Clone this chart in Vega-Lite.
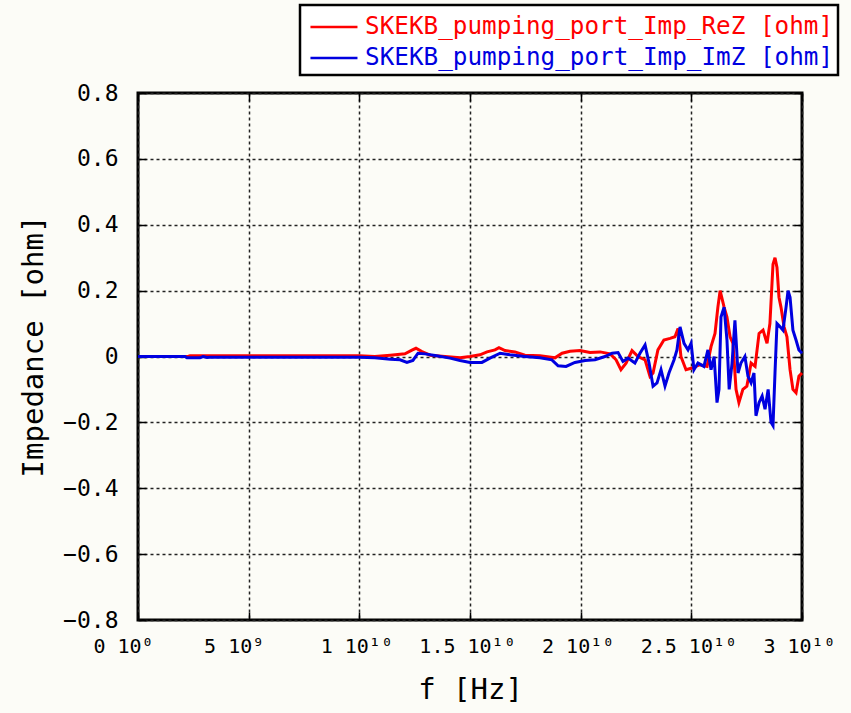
{
  "$schema": "https://vega.github.io/schema/vega-lite/v6.json",
  "autosize": {"type": "none"},
  "width": 664,
  "height": 527,
  "padding": {"left": 138, "top": 93, "right": 49, "bottom": 93},
  "background": "#fcfcf7",
  "config": {
    "view": {"stroke": "black", "strokeWidth": 3, "fill": "#fcfcf7"},
    "axis": {
      "labelFont": "DejaVu Sans Mono",
      "titleFont": "DejaVu Sans Mono",
      "labelColor": "black",
      "titleColor": "black",
      "titleFontWeight": "normal",
      "domain": false,
      "tickColor": "black",
      "tickWidth": 1.5,
      "tickSize": -8,
      "gridColor": "#222",
      "gridDash": [3, 3],
      "gridWidth": 1.5,
      "gridOpacity": 1
    }
  },
  "datasets": {
    "re": [
      {"f": 0, "z": 0}, {"f": 2.26e9, "z": 0}, {"f": 2.35e9, "z": 0.002}, {"f": 1.0e10, "z": 0.002},
      {"f": 1.07e10, "z": 0.0}, {"f": 1.14e10, "z": 0.004}, {"f": 1.206e10, "z": 0.008}, {"f": 1.24e10, "z": 0.02},
      {"f": 1.256e10, "z": 0.025}, {"f": 1.283e10, "z": 0.015}, {"f": 1.32e10, "z": 0.004}, {"f": 1.387e10, "z": 0.0},
      {"f": 1.455e10, "z": -0.004}, {"f": 1.5e10, "z": 0.0}, {"f": 1.545e10, "z": 0.005}, {"f": 1.577e10, "z": 0.014},
      {"f": 1.613e10, "z": 0.02}, {"f": 1.631e10, "z": 0.027}, {"f": 1.658e10, "z": 0.018}, {"f": 1.703e10, "z": 0.014},
      {"f": 1.748e10, "z": 0.004}, {"f": 1.816e10, "z": 0.002}, {"f": 1.884e10, "z": -0.004}, {"f": 1.916e10, "z": 0.01},
      {"f": 1.952e10, "z": 0.016}, {"f": 1.997e10, "z": 0.018}, {"f": 2.042e10, "z": 0.012}, {"f": 2.088e10, "z": 0.014},
      {"f": 2.133e10, "z": 0.008}, {"f": 2.16e10, "z": -0.01}, {"f": 2.182e10, "z": -0.04}, {"f": 2.205e10, "z": -0.02},
      {"f": 2.232e10, "z": 0.018}, {"f": 2.259e10, "z": 0.0}, {"f": 2.291e10, "z": -0.01}, {"f": 2.313e10, "z": -0.06},
      {"f": 2.327e10, "z": -0.05}, {"f": 2.349e10, "z": 0.02}, {"f": 2.376e10, "z": 0.05}, {"f": 2.404e10, "z": 0.055},
      {"f": 2.426e10, "z": 0.06}, {"f": 2.44e10, "z": 0.085}, {"f": 2.453e10, "z": 0.0}, {"f": 2.476e10, "z": -0.04},
      {"f": 2.503e10, "z": -0.035}, {"f": 2.539e10, "z": -0.025}, {"f": 2.571e10, "z": -0.03}, {"f": 2.589e10, "z": 0.03},
      {"f": 2.607e10, "z": 0.07}, {"f": 2.62e10, "z": 0.15}, {"f": 2.63e10, "z": 0.2}, {"f": 2.648e10, "z": 0.15},
      {"f": 2.661e10, "z": 0.12}, {"f": 2.675e10, "z": 0.06}, {"f": 2.688e10, "z": 0.04}, {"f": 2.702e10, "z": -0.1},
      {"f": 2.715e10, "z": -0.14}, {"f": 2.733e10, "z": -0.1}, {"f": 2.751e10, "z": -0.09}, {"f": 2.77e10, "z": -0.02},
      {"f": 2.788e10, "z": -0.03}, {"f": 2.806e10, "z": 0.07}, {"f": 2.824e10, "z": 0.08}, {"f": 2.842e10, "z": 0.04},
      {"f": 2.855e10, "z": 0.1}, {"f": 2.869e10, "z": 0.28}, {"f": 2.878e10, "z": 0.3}, {"f": 2.887e10, "z": 0.27},
      {"f": 2.896e10, "z": 0.18}, {"f": 2.905e10, "z": 0.15}, {"f": 2.919e10, "z": 0.09}, {"f": 2.932e10, "z": 0.06},
      {"f": 2.946e10, "z": -0.04}, {"f": 2.959e10, "z": -0.1}, {"f": 2.973e10, "z": -0.11}, {"f": 2.986e10, "z": -0.06},
      {"f": 3.0e10, "z": -0.05}
    ],
    "im": [
      {"f": 0, "z": 0}, {"f": 2.12e9, "z": 0}, {"f": 2.21e9, "z": -0.004}, {"f": 2.8e9, "z": -0.004},
      {"f": 2.94e9, "z": 0}, {"f": 3.12e9, "z": -0.003}, {"f": 3.25e9, "z": -0.002}, {"f": 1.0e10, "z": -0.002},
      {"f": 1.07e10, "z": -0.004}, {"f": 1.14e10, "z": -0.008}, {"f": 1.184e10, "z": -0.01}, {"f": 1.215e10, "z": -0.018},
      {"f": 1.242e10, "z": -0.012}, {"f": 1.265e10, "z": 0.01}, {"f": 1.297e10, "z": 0.008}, {"f": 1.342e10, "z": 0.003},
      {"f": 1.41e10, "z": -0.005}, {"f": 1.455e10, "z": -0.012}, {"f": 1.5e10, "z": -0.018}, {"f": 1.554e10, "z": -0.018},
      {"f": 1.59e10, "z": -0.005}, {"f": 1.636e10, "z": 0.01}, {"f": 1.68e10, "z": 0.005}, {"f": 1.748e10, "z": 0.0},
      {"f": 1.816e10, "z": -0.004}, {"f": 1.87e10, "z": -0.01}, {"f": 1.898e10, "z": -0.028}, {"f": 1.934e10, "z": -0.03},
      {"f": 1.974e10, "z": -0.018}, {"f": 2.02e10, "z": -0.012}, {"f": 2.065e10, "z": -0.01}, {"f": 2.11e10, "z": 0.0},
      {"f": 2.142e10, "z": 0.01}, {"f": 2.169e10, "z": 0.012}, {"f": 2.191e10, "z": -0.015}, {"f": 2.214e10, "z": -0.005},
      {"f": 2.245e10, "z": -0.02}, {"f": 2.268e10, "z": 0.01}, {"f": 2.291e10, "z": 0.035}, {"f": 2.309e10, "z": -0.02},
      {"f": 2.327e10, "z": -0.09}, {"f": 2.345e10, "z": -0.08}, {"f": 2.363e10, "z": -0.04}, {"f": 2.381e10, "z": -0.09},
      {"f": 2.399e10, "z": -0.05}, {"f": 2.422e10, "z": -0.01}, {"f": 2.435e10, "z": 0.02}, {"f": 2.449e10, "z": 0.09},
      {"f": 2.467e10, "z": 0.04}, {"f": 2.485e10, "z": 0.02}, {"f": 2.499e10, "z": 0.04}, {"f": 2.512e10, "z": -0.04},
      {"f": 2.53e10, "z": -0.02}, {"f": 2.557e10, "z": -0.03}, {"f": 2.575e10, "z": 0.02}, {"f": 2.589e10, "z": -0.04},
      {"f": 2.603e10, "z": 0.0}, {"f": 2.616e10, "z": -0.14}, {"f": 2.625e10, "z": -0.1}, {"f": 2.634e10, "z": 0.12},
      {"f": 2.648e10, "z": 0.15}, {"f": 2.661e10, "z": 0.05}, {"f": 2.671e10, "z": -0.1}, {"f": 2.684e10, "z": -0.02},
      {"f": 2.697e10, "z": 0.11}, {"f": 2.711e10, "z": -0.05}, {"f": 2.724e10, "z": -0.02}, {"f": 2.742e10, "z": 0.0},
      {"f": 2.756e10, "z": -0.06}, {"f": 2.77e10, "z": -0.08}, {"f": 2.783e10, "z": -0.05}, {"f": 2.792e10, "z": -0.18},
      {"f": 2.806e10, "z": -0.14}, {"f": 2.82e10, "z": -0.12}, {"f": 2.833e10, "z": -0.16}, {"f": 2.847e10, "z": -0.1},
      {"f": 2.86e10, "z": -0.2}, {"f": 2.869e10, "z": -0.21}, {"f": 2.878e10, "z": -0.05}, {"f": 2.887e10, "z": 0.1},
      {"f": 2.901e10, "z": 0.09}, {"f": 2.914e10, "z": 0.08}, {"f": 2.928e10, "z": 0.15}, {"f": 2.937e10, "z": 0.2},
      {"f": 2.946e10, "z": 0.18}, {"f": 2.959e10, "z": 0.08}, {"f": 2.973e10, "z": 0.05}, {"f": 2.986e10, "z": 0.02},
      {"f": 3.0e10, "z": 0.01}
    ]
  },
  "layer": [
    {
      "data": {"name": "re"},
      "mark": {"type": "line", "strokeWidth": 3, "interpolate": "linear"},
      "encoding": {
        "x": {
          "field": "f", "type": "quantitative",
          "scale": {"domain": [0, 3e10], "nice": false, "zero": false},
          "axis": {
            "orient": "bottom",
            "title": "f [Hz]",
            "titleFontSize": 29,
            "titlePadding": 19,
            "values": [0, 5e9, 1e10, 1.5e10, 2e10, 2.5e10, 3e10],
            "labelExpr": "datum.value == 0 ? '0 10⁰' : datum.value == 5e9 ? '5 10⁹' : (datum.value / 1e10) + ' 10¹⁰'",
            "labelFontSize": 20,
            "labelPadding": 24,
            "labelAlign": "center",
            "labelOffset": {"condition": {"test": "datum.value < 6e9", "value": -15}, "value": -3},
            "labelFlush": false,
            "labelOverlap": false,
            "grid": true
          }
        },
        "y": {
          "field": "z", "type": "quantitative",
          "scale": {"domain": [-0.8, 0.8], "nice": false, "zero": false},
          "axis": {
            "orient": "left",
            "title": "Impedance [ohm]",
            "titleFontSize": 29,
            "titlePadding": 14,
            "titleY": 253,
            "values": [-0.8, -0.6, -0.4, -0.2, 0, 0.2, 0.4, 0.6, 0.8],
            "labelExpr": "datum.value == 0 ? '0' : format(datum.value, '.1f')",
            "labelFontSize": 23,
            "labelPadding": 28,
            "labelFlush": false,
            "labelOverlap": false,
            "grid": true
          }
        },
        "color": {
          "datum": "SKEKB_pumping_port_Imp_ReZ [ohm]",
          "type": "nominal",
          "scale": {
            "domain": ["SKEKB_pumping_port_Imp_ReZ [ohm]", "SKEKB_pumping_port_Imp_ImZ [ohm]"],
            "range": ["#ff0000", "#0000e0"]
          },
          "legend": {
            "orient": "none",
            "legendX": 162,
            "legendY": -88,
            "title": null,
            "symbolType": "M-0.7,0H2.15",
            "symbolSize": 1089,
            "symbolStrokeWidth": 2.5,
            "labelFont": "DejaVu Sans Mono",
            "labelFontSize": 24.3,
            "labelLimit": 0,
            "rowPadding": 0,
            "padding": 4,
            "fillColor": "white",
            "strokeColor": "black",
            "cornerRadius": 0,
            "labelOffset": 25,
            "encode": {
              "legend": {"update": {"strokeWidth": {"value": 2.5}}},
              "labels": {"update": {"fill": {"signal": "scale('color', datum.value)"}}}
            }
          }
        }
      }
    },
    {
      "data": {"name": "im"},
      "mark": {"type": "line", "strokeWidth": 3, "interpolate": "linear"},
      "encoding": {
        "x": {
          "field": "f", "type": "quantitative",
          "axis": {
            "orient": "top", "title": null, "labels": false, "grid": false,
            "values": [0, 5e9, 1e10, 1.5e10, 2e10, 2.5e10, 3e10]
          }
        },
        "y": {
          "field": "z", "type": "quantitative",
          "axis": {
            "orient": "right", "title": null, "labels": false, "grid": false,
            "values": [-0.8, -0.6, -0.4, -0.2, 0, 0.2, 0.4, 0.6, 0.8]
          }
        },
        "color": {"datum": "SKEKB_pumping_port_Imp_ImZ [ohm]", "type": "nominal"}
      }
    }
  ],
  "resolve": {"axis": {"x": "independent", "y": "independent"}}
}
